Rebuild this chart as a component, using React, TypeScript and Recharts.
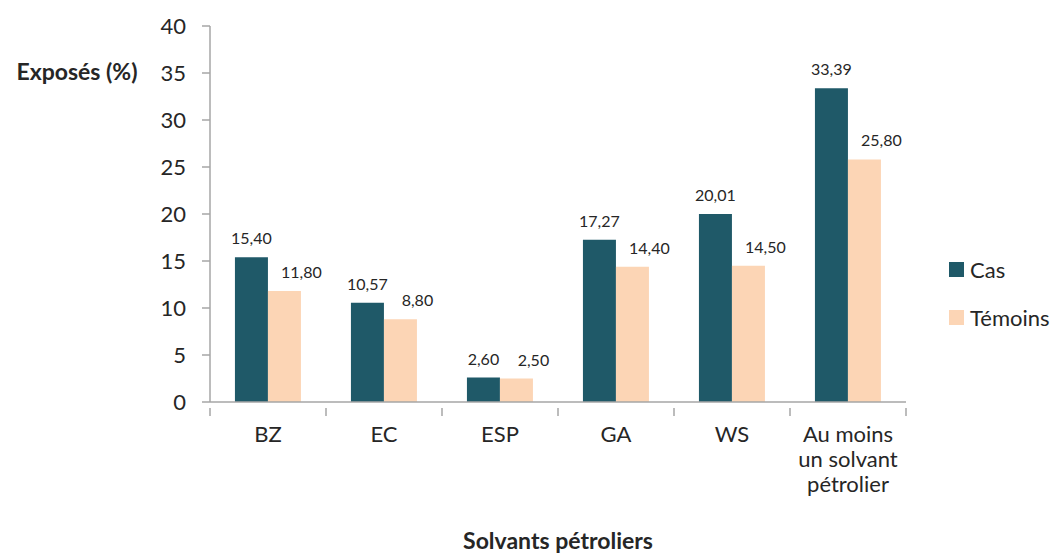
import { Bar, BarChart, LabelList, XAxis, YAxis } from 'recharts';

const categories = ['BZ', 'EC', 'ESP', 'GA', 'WS', 'Au moins\nun solvant\npétrolier'];
const casValues = [15.4, 10.57, 2.6, 17.27, 20.01, 33.39];
const temoinsValues = [11.8, 8.8, 2.5, 14.4, 14.5, 25.8];
const yTicks = [0, 5, 10, 15, 20, 25, 30, 35, 40];
const seriesNames = ['Cas', 'Témoins'];

const data = categories.map((name, i) => ({ name, cas: casValues[i], temoins: temoinsValues[i] }));

const FONT = 'Lato, "Open Sans", sans-serif';
const AXIS = '#A6A6A6';
const TEXT = '#262626';
const CAS = '#1F5968';
const TEMOINS = '#FCD5B5';

const fmt = (v: number) => v.toFixed(2).replace('.', ',');

function CategoryTick(props: any) {
  const { x, y, payload, index } = props;
  const half = 58;
  const lines = String(payload.value).split('\n');
  const axisY = y - 2;
  return (
    <g>
      <line x1={x - half} x2={x - half} y1={axisY} y2={axisY + 8} stroke={AXIS} strokeWidth={1.5} />
      {index === categories.length - 1 && (
        <line x1={x + half} x2={x + half} y1={axisY} y2={axisY + 8} stroke={AXIS} strokeWidth={1.5} />
      )}
      {lines.map((l, i) => (
        <text key={i} x={x} y={y + 32 + i * 25} textAnchor="middle" fill={TEXT} fontSize={22} fontFamily={FONT}>
          {l}
        </text>
      ))}
    </g>
  );
}

function LegendBox() {
  const colors = [CAS, TEMOINS];
  return (
    <div style={{ position: 'absolute', left: 949, top: 245, fontFamily: FONT, whiteSpace: 'nowrap' }}>
      {seriesNames.map((label, i) => (
        <div key={label} style={{ display: 'flex', alignItems: 'center', height: 48 }}>
          <span style={{ width: 15, height: 15, background: colors[i], marginRight: 6, display: 'inline-block' }} />
          <span style={{ fontSize: 22, color: TEXT }}>{label}</span>
        </div>
      ))}
    </div>
  );
}

export default function App() {
  return (
    <div style={{ position: 'absolute', left: 0, top: 0, width: 1062, height: 553, background: '#fff', overflow: 'hidden' }}>
      <BarChart
        width={1062}
        height={553}
        data={data}
        margin={{ top: 26, right: 156, bottom: 0, left: 0 }}
        barCategoryGap="21.5%"
        barGap={0}
      >
        <YAxis
          domain={[0, 40]}
          ticks={yTicks}
          width={210}
          tickSize={8}
          tickMargin={16}
          stroke={AXIS}
          strokeWidth={1.5}
          tick={{ fill: TEXT, fontSize: 22, fontFamily: FONT }}
          label={{
            content: () => (
              <text x={77} y={80} textAnchor="middle" fill={TEXT} fontSize={23} fontWeight="bold" fontFamily={FONT}>
                Exposés (%)
              </text>
            ),
          }}
        />
        <XAxis
          dataKey="name"
          height={151}
          tickLine={false}
          tickMargin={2}
          stroke={AXIS}
          strokeWidth={1.5}
          interval={0}
          tick={<CategoryTick />}
          label={{
            content: () => (
              <text x={558} y={549} textAnchor="middle" fill={TEXT} fontSize={23} fontWeight="bold" fontFamily={FONT}>
                Solvants pétroliers
              </text>
            ),
          }}
        />
        <Bar dataKey="cas" name={seriesNames[0]} fill={CAS} isAnimationActive={false}>
          <LabelList
            dataKey="cas"
            position="top"
            offset={13}
            formatter={(v: any) => fmt(Number(v))}
            style={{ fill: TEXT, fontSize: 16, fontFamily: FONT }}
          />
        </Bar>
        <Bar dataKey="temoins" name={seriesNames[1]} fill={TEMOINS} isAnimationActive={false}>
          <LabelList
            dataKey="temoins"
            position="top"
            offset={13}
            dx={17}
            formatter={(v: any) => fmt(Number(v))}
            style={{ fill: TEXT, fontSize: 16, fontFamily: FONT }}
          />
        </Bar>
      </BarChart>
      <LegendBox />
    </div>
  );
}
